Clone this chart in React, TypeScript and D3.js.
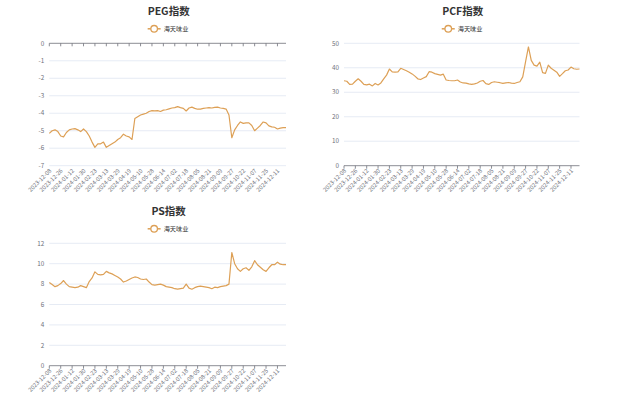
import React, { useEffect, useRef } from "react";
import * as d3 from "d3";

// labels on the category axis, one every 12 trading days
const tickDates = [
  "2023-12-08", "2023-12-26", "2024-01-12", "2024-01-30", "2024-02-23",
  "2024-03-13", "2024-03-29", "2024-04-19", "2024-05-10", "2024-05-28",
  "2024-06-14", "2024-07-02", "2024-07-18", "2024-08-05", "2024-08-21",
  "2024-09-09", "2024-09-27", "2024-10-22", "2024-11-07", "2024-11-25",
  "2024-12-11",
];
// one sample every 3 trading days -> a label every 4 samples
const samplesPerTick = 4;

const seriesName = "海天味业";

const pegValues = [
  -5.15, -5.0, -4.95, -5.05, -5.3, -5.35, -5.1, -4.95, -4.9, -4.88,
  -4.95, -5.05, -4.9, -5.05, -5.3, -5.65, -5.95, -5.75, -5.75, -5.65,
  -5.95, -5.85, -5.75, -5.65, -5.5, -5.4, -5.2, -5.3, -5.35, -5.5,
  -4.3, -4.2, -4.1, -4.05, -4.0, -3.9, -3.85, -3.87, -3.85, -3.9,
  -3.82, -3.8, -3.75, -3.7, -3.68, -3.62, -3.68, -3.72, -3.87, -3.7,
  -3.65, -3.72, -3.77, -3.76, -3.72, -3.7, -3.68, -3.7, -3.66, -3.65,
  -3.7, -3.72, -3.76, -4.1, -5.4, -4.95, -4.7, -4.5, -4.58, -4.55,
  -4.55, -4.7, -5.0, -4.85, -4.7, -4.5, -4.55, -4.72, -4.78, -4.8,
  -4.9, -4.85, -4.82, -4.82,
];

const pcfValues = [
  34.7, 34.5, 33.2, 33.3, 34.5, 35.5, 34.5, 33.2, 33.0, 33.3,
  32.6, 33.6, 33.0, 33.8, 35.5, 37.0, 39.5, 38.3, 38.2, 38.3,
  39.8, 39.3, 38.8, 38.2, 37.5, 36.6, 35.5, 35.2, 35.8, 36.4,
  38.4, 38.2, 37.6, 37.3, 37.0, 37.4, 35.0, 34.8, 34.7, 34.7,
  35.0, 34.2, 33.8, 33.7, 33.4, 33.2, 33.4, 33.8, 34.5, 34.8,
  33.5, 33.2, 34.0, 34.3, 34.1, 33.9, 33.6, 33.8, 34.0, 33.7,
  33.6, 34.0, 34.3, 36.3, 42.5, 48.5, 43.0, 41.1, 40.7, 42.3,
  38.0, 37.7, 41.1, 39.8, 39.0, 38.2, 36.5, 37.6, 38.8, 39.1,
  40.3, 39.6, 39.4, 39.5,
];

const psValues = [
  8.15, 7.95, 7.75, 7.85, 8.05, 8.35, 8.0, 7.75, 7.7, 7.65,
  7.7, 7.85, 7.75, 7.65, 8.25, 8.6, 9.2, 8.95, 8.9, 8.95,
  9.25, 9.1, 9.0, 8.85, 8.7, 8.5, 8.2, 8.3, 8.45, 8.6,
  8.7, 8.65, 8.5, 8.45, 8.5, 8.2, 7.95, 7.9, 7.95, 8.0,
  7.9, 7.75, 7.7, 7.65, 7.55, 7.5, 7.55, 7.6, 8.0, 7.6,
  7.5, 7.65, 7.75, 7.8, 7.75, 7.7, 7.65, 7.55, 7.7, 7.65,
  7.75, 7.8, 7.85, 8.0, 11.1, 10.0, 9.5, 9.25, 9.5, 9.6,
  9.35, 9.7, 10.3, 9.9, 9.65, 9.4, 9.25, 9.6, 9.9, 9.9,
  10.15, 9.95, 9.9, 9.9,
];

const pegTicks = [0, -1, -2, -3, -4, -5, -6, -7];
const pcfTicks = [0, 10, 20, 30, 40, 50];
const psTicks = [0, 2, 4, 6, 8, 10, 12];

const lineColor = "#dda056";
const axisColor = "#6e7079";
const gridColor = "#e0e6f1";
const font = "'Noto Sans CJK SC', 'Noto Sans', sans-serif";

function drawPanel(svg, { title, values, ticks, left, top, width, height }) {
  const x = d3.scaleLinear().domain([0, values.length - 1]).range([left, left + width]);
  const y = d3.scaleLinear().domain(d3.extent(ticks)).range([top + height, top]);
  const g = svg.append("g").attr("font-family", font);
  const cx = left + width / 2;

  // title
  g.append("text")
    .attr("x", cx + 1)
    .attr("y", top - 28)
    .attr("text-anchor", "middle")
    .attr("font-size", 10.5)
    .attr("font-weight", "bold")
    .attr("fill", "#333")
    .text(title);

  // legend
  const ly = top - 14.5;
  g.append("line")
    .attr("x1", cx - 20).attr("x2", cx - 7)
    .attr("y1", ly).attr("y2", ly)
    .attr("stroke", lineColor).attr("stroke-width", 1.5);
  g.append("circle")
    .attr("cx", cx - 13.5).attr("cy", ly).attr("r", 3.3)
    .attr("fill", "#fff").attr("stroke", lineColor).attr("stroke-width", 1.3);
  g.append("text")
    .attr("x", cx - 4).attr("y", ly + 2.2)
    .attr("font-size", 6.2).attr("fill", "#333")
    .text(seriesName);

  // grid lines, the zero line is the x axis
  g.selectAll("line.grid")
    .data(ticks)
    .join("line")
    .attr("x1", left).attr("x2", left + width)
    .attr("y1", (d) => y(d)).attr("y2", (d) => y(d))
    .attr("stroke", (d) => (d === 0 ? axisColor : gridColor))
    .attr("stroke-width", 0.8);

  g.selectAll("text.ylab")
    .data(ticks)
    .join("text")
    .attr("x", left - 5)
    .attr("y", (d) => y(d) + 2.2)
    .attr("text-anchor", "end")
    .attr("font-size", 6.3)
    .attr("fill", axisColor)
    .text((d) => d);

  const tickIdx = tickDates.map((_, k) => k * samplesPerTick);

  // ticks on the zero line
  g.selectAll("line.xtick")
    .data(tickIdx)
    .join("line")
    .attr("x1", (d) => x(d)).attr("x2", (d) => x(d))
    .attr("y1", y(0)).attr("y2", y(0) + 3)
    .attr("stroke", axisColor)
    .attr("stroke-width", 0.8);

  // date labels under the plot
  const by = top + height + 4;
  g.selectAll("text.xlab")
    .data(tickIdx)
    .join("text")
    .attr("transform", (d) => `translate(${x(d) + 1},${by}) rotate(-45)`)
    .attr("text-anchor", "end")
    .attr("dy", "0.35em")
    .attr("font-size", 5.8)
    .attr("fill", axisColor)
    .text((d, k) => tickDates[k]);

  const line = d3
    .line()
    .x((d, i) => x(i))
    .y((d) => y(d));

  g.append("path")
    .datum(values)
    .attr("d", line)
    .attr("fill", "none")
    .attr("stroke", lineColor)
    .attr("stroke-width", 1.2)
    .attr("stroke-linejoin", "round");
}

const App = () => {
  const ref = useRef(null);

  useEffect(() => {
    const svg = d3.select(ref.current);
    svg.selectAll("*").remove();

    svg.append("rect").attr("width", 640).attr("height", 406).attr("fill", "#fff");

    drawPanel(svg, { title: "PEG指数", values: pegValues, ticks: pegTicks, left: 49.3, top: 43.3, width: 236.7, height: 122.4 });
    drawPanel(svg, { title: "PCF指数", values: pcfValues, ticks: pcfTicks, left: 344, top: 43.3, width: 235.5, height: 122.4 });
    drawPanel(svg, { title: "PS指数", values: psValues, ticks: psTicks, left: 49.3, top: 243.3, width: 236.7, height: 122.4 });
  }, []);

  return (
    <svg
      ref={ref}
      width={640}
      height={406}
      style={{ position: "absolute", left: 0, top: 0 }}
    ></svg>
  );
};

export default App;
